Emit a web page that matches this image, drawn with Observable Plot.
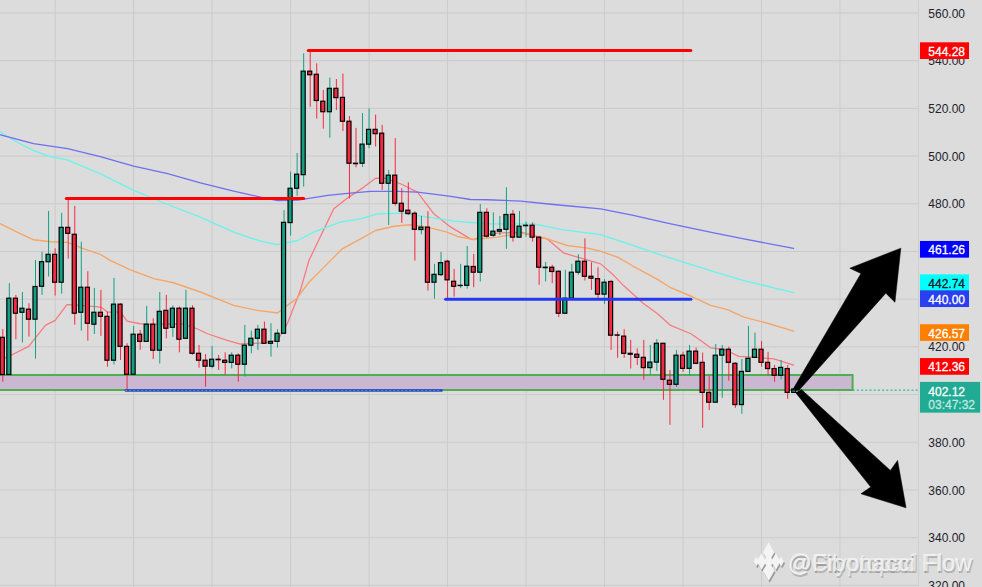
<!DOCTYPE html>
<html>
<head>
<meta charset="utf-8">
<script src="https://cdn.jsdelivr.net/npm/d3@7"></script>
<script src="https://cdn.jsdelivr.net/npm/@observablehq/plot@0.6"></script>
<style>
html,body{margin:0;padding:0;background:#dcdcdc;overflow:hidden}
svg{display:block}
</style>
</head>
<body>
<div id="chart"></div>
<script>
const highs = [427.3,446.5,441.6,442.8,438.1,456.2,459.6,476.8,461.1,476.0,482.1,478.9,463.9,451.5,444.5,443.7,434.6,448.7,438.1,421.3,428.6,426.9,437.0,431.8,442.8,441.6,437.2,436.7,443.7,437.2,420.6,416.8,420.2,416.4,417.5,417.5,417.1,429.0,426.6,429.0,430.4,429.7,427.2,477.1,493.3,501.1,542.9,544.0,538.7,527.5,532.7,532.1,534.4,516.6,511.6,517.8,519.8,517.2,512.9,494.0,507.3,486.3,488.8,476.7,474.7,476.7,454.6,459.6,456.3,452.5,454.6,462.1,458.8,479.7,477.9,476.2,474.7,486.7,477.2,476.8,472.3,472.0,465.8,455.4,454.2,451.8,452.1,454.6,458.6,465.3,455.3,453.2,448.2,447.9,426.2,427.2,422.7,419.2,422.7,420.6,423.1,421.3,410.1,418.5,417.8,420.6,419.5,417.4,407.8,421.0,420.6,419.9,413.3,414.7,428.6,425.8,422.3,417.7,412.2,414.3,412.2,402.4];
const opens = [423.8,408.2,440.2,434.3,435.6,431.4,445.2,455.5,458.6,446.9,469.9,467.0,434.3,444.8,429.3,434.3,432.6,414.2,437.7,420.0,408.3,425.1,422.1,429.3,418.4,435.1,428.0,436.0,423.4,436.0,417.1,414.2,411.7,414.6,414.2,413.3,416.3,412.5,420.5,423.4,427.2,421.3,422.1,425.5,471.9,486.3,492.0,535.4,534.1,522.8,518.4,528.2,524.4,514.4,496.8,496.8,504.8,511.0,509.4,488.4,491.8,480.0,477.1,475.8,469.0,470.0,446.9,450.1,455.7,447.3,445.5,445.6,453.5,451.1,476.2,466.6,468.3,469.1,475.4,465.8,470.6,470.8,465.8,453.0,453.2,451.5,433.9,440.2,451.1,455.7,449.4,448.4,441.9,447.2,424.8,424.3,417.1,416.7,415.4,411.1,413.4,421.3,405.8,404.1,416.3,410.8,418.0,413.3,400.7,396.6,416.3,418.8,412.9,395.6,409.5,415.4,418.8,413.3,410.7,407.9,410.7,400.7];
const lows = [405.2,408.2,423.0,421.6,424.1,414.9,441.6,449.3,441.3,442.1,456.8,429.1,426.6,422.4,425.2,424.4,411.5,412.4,414.3,401.7,408.3,418.5,422.1,414.7,412.8,423.4,424.0,417.5,423.0,416.5,411.1,403.1,410.8,410.1,408.2,410.8,405.2,407.3,417.1,418.5,421.0,415.7,419.5,425.5,466.4,483.1,487.0,520.5,515.5,511.3,507.5,519.1,510.3,482.0,495.1,495.2,503.1,503.8,485.6,470.9,479.0,471.8,475.1,456.0,467.0,443.4,440.0,449.5,439.9,440.9,444.4,444.2,444.8,447.2,465.6,466.0,466.7,460.9,463.9,465.8,466.0,463.9,445.8,447.2,446.5,432.3,433.9,439.8,450.0,447.6,443.7,439.9,437.8,418.5,415.2,415.2,410.7,412.2,406.0,408.3,409.7,397.6,387.1,403.0,409.3,407.8,412.5,385.9,393.3,396.6,398.4,405.6,394.2,391.7,409.5,415.4,411.5,407.8,405.1,406.2,398.0,400.7];
const closes = [408.2,440.2,433.9,436.0,431.4,445.1,455.5,458.6,446.9,469.9,467.4,433.9,444.8,429.7,434.3,432.6,414.2,437.7,420.0,408.3,425.1,422.1,429.3,418.4,434.7,427.6,436.0,423.0,436.0,417.1,414.2,411.7,414.6,414.4,413.3,416.3,412.5,420.5,423.4,427.2,421.3,422.1,425.5,472.0,486.3,492.2,535.4,533.9,523.1,518.4,528.2,524.3,514.4,496.8,496.6,504.8,511.0,509.2,488.4,491.8,480.0,476.7,475.7,469.1,470.0,446.9,450.2,455.1,447.9,445.2,445.6,453.6,451.1,476.2,466.2,468.3,469.0,475.3,465.8,470.4,470.8,465.8,453.2,453.2,451.4,433.9,440.2,451.1,455.7,449.4,448.6,441.9,446.9,424.7,424.7,417.1,416.7,415.4,411.1,413.4,421.3,406.2,404.1,416.3,410.8,418.0,412.9,400.7,396.6,416.3,418.8,413.3,395.6,409.5,415.0,418.8,413.3,410.7,407.9,411.2,400.7,402.12];

const ma20Index = [-0.35,1.2,4,6.5,8,9.8,11.9,15,16,18,19,21,23.6,27.2,29.7,31.3,34.3,36.3,39.9,42,43.5,45.5,46.8,50.6,52.9,55.2,57,58.5,60.8,63.4,65.9,68.5,71.5,72,73.5,75.6,79.2,81.2,83.2,85.8,88.8,91.4,93.4,94.9,98,100.1,102.1,105.2,106.7,108.2,110.5,112.5,114.8,117.9,120.9];
const ma20Value = [414.5,416.4,420.3,429,431.1,437.7,437.4,436.7,434.6,434.6,430.8,429.7,429.4,429.7,427.6,425.5,422.7,421.2,421.7,422.7,429.7,443.7,456.2,477.9,482.8,487,490.7,490.7,488.4,484.9,475.8,470.2,465.3,465,466.7,467.7,468.1,466.7,465.3,459.3,456.9,454.8,450,445.7,438.1,433.9,429,425.5,422.7,419.6,418.8,416,415.7,415,412.36];

const ma50Index = [-0.35,2.2,4.7,7.3,9.8,12.4,14.9,16.5,19.5,23.1,26.1,30.2,35.3,38.9,42,43.5,44.9,46.8,49.6,51.9,54.7,57,59.8,62.3,64.9,67.9,69.5,72,75.6,79.2,81.2,83.7,86.3,89.4,91.4,94,96.4,100.1,102.1,105.6,108.2,110.8,113.3,116.9,120.9];
const ma50Value = [471.6,468.1,464.9,464.1,463.9,461.1,458.8,456.2,452.3,448.6,446.9,443,437.4,435.3,434.2,437.4,440.1,447.1,454.8,461.1,465.3,468.8,470.6,471.2,470.2,468.1,466.3,465,466,467.7,466.7,464.9,462.5,461.4,460.1,457.6,453.8,448.3,444.8,440.8,437.4,435.6,432.5,429.9,426.57];

const ma100Index = [-0.35,2.2,4.7,7.3,9.9,14.9,17.5,20,25.2,30.2,35.3,39.4,42,45.1,47.5,51.6,54.7,57.3,61.3,64.9,69,74.1,81.2,85.7,91.4,96.4,101.6,108.7,113.3,120.9];
const ma100Value = [510,505.8,502.3,499.8,498.4,492.6,489.1,485.6,479.7,474.4,468.1,464.3,462.9,464.6,468.1,472.3,473.7,475.8,476.1,474.4,472.7,471.6,471.6,469.1,467.1,462.5,457.6,451.6,447.8,442.74];

const ma200Index = [-0.35,4.7,9.9,14.9,20,25.2,30.2,35.3,39.4,42,45.1,49.7,52.7,56.2,60.4,63.4,68.5,71.5,74.1,79.2,84.2,91.4,96.4,101.6,108.7,113.3,120.9];
const ma200Value = [508.9,505.2,503.1,499.8,495.8,492.6,488.8,485.3,482.8,481.3,481.5,483.5,484.4,485.2,485.2,484.9,483.1,481.8,481.7,481.1,479.7,477.9,475.1,471.9,467.8,465.3,461.26];

const yTicks = [560,540,520,500,480,460,440,420,400,380,360,340,320];
const xGrid = [8,20,32,44,56,68,80,92,104,116,128];

const zoneTop = 408.0, zoneBottom = 401.7, zoneEnd = 130;
const redLevelsStart = [46.7,9.7], redLevelsEnd = [105.2,46], redLevelsValue = [544.28,482.2];
const blueLevelStart = 67.7, blueLevelEnd = 105.2, blueLevelValue = 440;
const supportStart = 18.8, supportEnd = 67.1, supportValue = 401.7;
const lastPrice = 401.9;

const upArrowIndex = [120.7,131.2,129.5,137.3,136.4,135,121.7];
const upArrowValue = [401.7,450.8,453,461.4,438.7,442.5,401.7];
const downArrowIndex = [121.2,132.7,131.2,138.1,136.8,135.7,122.1];
const downArrowValue = [400.9,361.2,358.4,352.5,372.4,368.2,402.1];

const labelTexts = ["544.28","461.26","442.74","440.00","426.57","412.36"];
const labelAt = [544,460.7,446.7,440,425.8,411.6];
const labelFill = ["#ff0000","#0000ff","#00ffff","#2a3ff0","#ff8000","#ff0000"];
const labelInk = ["#ffffff","#ffffff","#131722","#ffffff","#ffffff","#ffffff"];
const lastLabel = "402.12", countdown = "03:47:32";
const watermarkA = "@Fibonacci Flow", watermarkB = "@Cryptopad Flow";
const logoIndex = [115.2,116.0,117.1,118.2,119.0,117.1,117.1];
const logoValue = [330,330,330,330,330,333.9,326.1];
const logoSize = [3,5,5,5,3,6,6];

const UP = "#12a084", DOWN = "#f5293f";
const candles = opens.map((o,i)=>({i,o,h:highs[i],l:lows[i],c:closes[i]}));
const zip = (a,b)=>a.map((x,i)=>({x,y:b[i]}));
const labels = labelTexts.map((t,i)=>({t,y:labelAt[i],f:labelFill[i],k:labelInk[i]}));
const logo = logoIndex.map((x,i)=>({x,y:logoValue[i],r:logoSize[i]}));
const axisFont = "'Liberation Sans',sans-serif";
const seg = (x1,x2,y)=>[{x:x1,y},{x:x2,y}];

const maLine = (ix,val,stroke,w)=>Plot.line(zip(ix,val),{x:"x",y:"y",stroke,strokeWidth:w,curve:"linear"});
const chip = (data,opts)=>Plot.text(data,{textAnchor:"start",fontSize:12,strokeWidth:0.3,dy:0.7,...opts});

const chart = Plot.plot({
  width:982,height:587,
  marginLeft:0,marginRight:64,marginTop:0,marginBottom:0,
  style:{background:"#dcdcdc",fontFamily:axisFont,overflow:"visible"},
  x:{domain:[-0.352,140],axis:null},
  y:{domain:[319.1,565.24],axis:null},
  color:{type:"identity"},
  r:{type:"identity"},
  marks:[
    Plot.gridX(xGrid,{stroke:"#cbcbcb",strokeOpacity:1}),
    Plot.gridY(yTicks,{stroke:"#cbcbcb",strokeOpacity:1}),
    Plot.ruleX([140],{stroke:"#cfcfcf"}),
    Plot.rect([0],{x1:()=>-2,x2:()=>zoneEnd,y1:()=>zoneBottom,y2:()=>zoneTop,fill:"#ccb7d3",stroke:"#4caf50",strokeWidth:2}),
    maLine(ma20Index,ma20Value,"#f77a80",1.3),
    maLine(ma50Index,ma50Value,"#f5a667",1.4),
    maLine(ma100Index,ma100Value,"#66f5ea",1.3),
    maLine(ma200Index,ma200Value,"#6f6ff0",1.3),
    Plot.ruleX(candles,{x:"i",y1:"l",y2:"h",stroke:d=>d.c>=d.o?UP:DOWN,strokeWidth:1}),
    Plot.rect(candles,{x1:d=>d.i-0.31,x2:d=>d.i+0.31,y1:d=>Math.min(d.o,d.c),y2:d=>Math.max(d.o,d.c),fill:d=>d.c>=d.o?UP:DOWN,stroke:"#000",strokeWidth:1.2}),
    Plot.line(seg(supportStart,supportEnd,supportValue),{x:"x",y:"y",stroke:"#2a3fe0",strokeWidth:2.4}),
    Plot.line(seg(supportStart,supportEnd,supportValue),{x:"x",y:"y",stroke:"#4caf50",strokeWidth:1,strokeDasharray:"1,3"}),
    ...redLevelsValue.map((v,k)=>Plot.line(seg(redLevelsStart[k],redLevelsEnd[k],v),{x:"x",y:"y",stroke:"#f00",strokeWidth:3})),
    Plot.line(seg(blueLevelStart,blueLevelEnd,blueLevelValue),{x:"x",y:"y",stroke:"#2438f0",strokeWidth:3}),
    Plot.line(seg(zoneEnd,140,lastPrice),{x:"x",y:"y",stroke:"#1fc0a0",strokeWidth:1.2,strokeDasharray:"1.2,3"}),
    Plot.line(zip(upArrowIndex,upArrowValue),{x:"x",y:"y",fill:"#000",stroke:"#000",strokeWidth:0.5,curve:"linear"}),
    Plot.line(zip(downArrowIndex,downArrowValue),{x:"x",y:"y",fill:"#000",stroke:"#000",strokeWidth:0.5,curve:"linear"}),
    chip(yTicks,{x:()=>141.5,y:d=>d,text:d=>d.toFixed(2),fill:"#1e222d",strokeWidth:0}),
    Plot.rect(labels,{x1:()=>140.3,x2:()=>147.8,y1:d=>d.y-3.5,y2:d=>d.y+3.5,fill:"f"}),
    chip(labels,{x:()=>141.5,y:"y",text:"t",fill:"k",stroke:"k"}),
    Plot.rect([0],{x1:()=>140.3,x2:()=>149.5,y1:()=>392.2,y2:()=>405.1,fill:"#22ab94"}),
    chip([lastLabel],{x:()=>141.5,y:()=>401.4,text:d=>d,fill:"#ffffff",stroke:"#ffffff"}),
    chip([countdown],{x:()=>141.5,y:()=>395.7,text:d=>d,fill:"#bfe8df",stroke:"#bfe8df"}),
    Plot.dot(logo,{x:"x",y:"y",symbol:"diamond",r:"r",fill:"#9b9b9b",dx:1,dy:2}),
    Plot.dot(logo,{x:"x",y:"y",symbol:"diamond",r:"r",fill:"#f4f4f4"}),
    Plot.text([watermarkA],{x:()=>120,y:()=>329.2,text:d=>d,textAnchor:"start",fontSize:24,fill:"#9b9b9b",dx:1,dy:2}),
    Plot.text([watermarkB],{x:()=>120,y:()=>329.2,text:d=>d,textAnchor:"start",fontSize:23,fill:"#b5b5b5",dx:1,dy:2}),
    Plot.text([watermarkA],{x:()=>120,y:()=>329.2,text:d=>d,textAnchor:"start",fontSize:24,fill:"#f4f4f4",fillOpacity:0.85}),
    Plot.text([watermarkB],{x:()=>120,y:()=>329.2,text:d=>d,textAnchor:"start",fontSize:23,fill:"#f4f4f4",fillOpacity:0.7})
  ]
});
document.getElementById("chart").appendChild(chart);
</script>
</body>
</html>
